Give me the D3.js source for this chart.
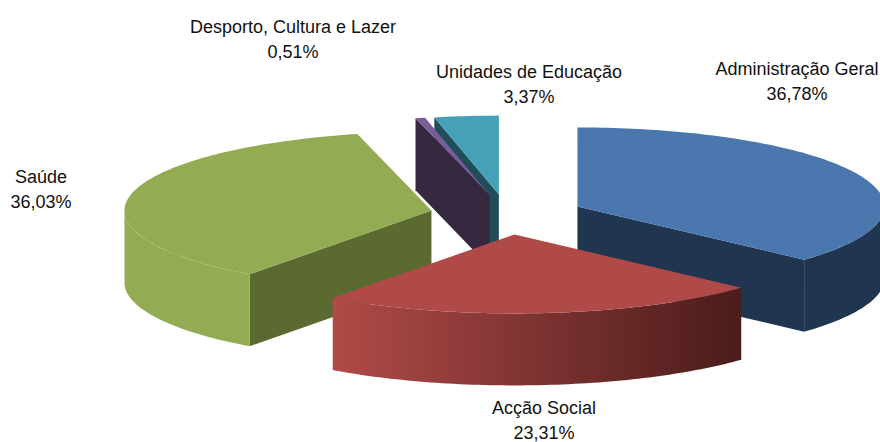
<!DOCTYPE html>
<html><head><meta charset="utf-8">
<style>html,body{margin:0;padding:0;background:#fff;overflow:hidden}svg{display:block}</style>
<script src="https://cdn.jsdelivr.net/npm/d3@7"></script></head>
<body><svg id="c" width="880" height="442"></svg>
<script>
const categories = ["Administração Geral","Acção Social","Saúde","Desporto, Cultura e Lazer","Unidades de Educação"];
const values = [36.78,23.31,36.03,0.51,3.37];
const topColors = ["#4A78AE","#B04A48","#93AC53","#7A5C9A","#46A0B8"];
const sideColors = ["#1F3550","#4A1C1A","#93AC53","#35283F","#1F4E58"];
const cutColors = ["#1F3550","#4A1C1A","#5A6A30","#35283F","#1F4E58"];
const drawOrder = [0,4,3,2,1];
const labelPos = [[797,75],[544,414],[41,183],[293,33],[529,78]];

const W=880,H=442,cx=507,cy=214.5,rx=307,ry=79,depth=72,ex=77,ey=20,lh=24.5;
const svg=d3.select("#c");
const defs=svg.append("defs");
const arcs=d3.pie().sort(null).value(d=>d).startAngle(0).endAngle(2*Math.PI)(values);
const fmt=d3.formatLocale({decimal:",",thousands:".",grouping:[3],currency:["","€"]}).format(".2f");
const line=d3.line().x(d=>d[0]).y(d=>d[1]);
const TAU=2*Math.PI;

arcs.forEach((a,i)=>{
  const g=defs.append("linearGradient").attr("id","w"+i).attr("gradientUnits","userSpaceOnUse")
    .attr("x1",333).attr("x2",741).attr("y1",0).attr("y2",0);
  g.append("stop").attr("offset",0).attr("stop-color",topColors[i]);
  g.append("stop").attr("offset",1).attr("stop-color",sideColors[i]);
});

drawOrder.forEach(i=>{
  const a=arcs[i], mid=(a.startAngle+a.endAngle)/2;
  const ax=cx+ex*Math.sin(mid), ay=cy-ey*Math.cos(mid);
  const P=(t,dz=0)=>[ax+rx*Math.sin(t), ay-ry*Math.cos(t)+dz];
  const A=(dz=0)=>[ax,ay+dz];
  const sweep=(t0,t1,dz=0)=>{const n=Math.max(2,Math.ceil((t1-t0)/0.02));return d3.range(n+1).map(k=>P(t0+(t1-t0)*k/n,dz));};
  const g=svg.append("g").attr("class","slice");
  const radial=t=>g.append("path").attr("d",line([A(),P(t),P(t,depth),A(depth)])+"Z").attr("fill",cutColors[i]);
  if(Math.sin(a.startAngle)<0) radial(a.startAngle);
  if(Math.sin(a.endAngle)>0) radial(a.endAngle);
  const w0=Math.max(a.startAngle,TAU/4), w1=Math.min(a.endAngle,3*TAU/4);
  if(w1>w0){
    g.append("path").attr("d",line(sweep(w0,w1).concat(sweep(w0,w1,depth).reverse()))+"Z").attr("fill",`url(#w${i})`);
  }
  g.append("path").attr("d",line([A()].concat(sweep(a.startAngle,a.endAngle)))+"Z").attr("fill",topColors[i]);
});

const t=svg.append("g").attr("font-family","'Liberation Sans',Arial,sans-serif").attr("font-size",18).attr("fill","#111").attr("text-anchor","middle");
categories.forEach((c,i)=>{
  t.append("text").attr("x",labelPos[i][0]).attr("y",labelPos[i][1]).text(c);
  t.append("text").attr("x",labelPos[i][0]).attr("y",labelPos[i][1]+lh).text(fmt(values[i])+"%");
});
</script></body></html>
